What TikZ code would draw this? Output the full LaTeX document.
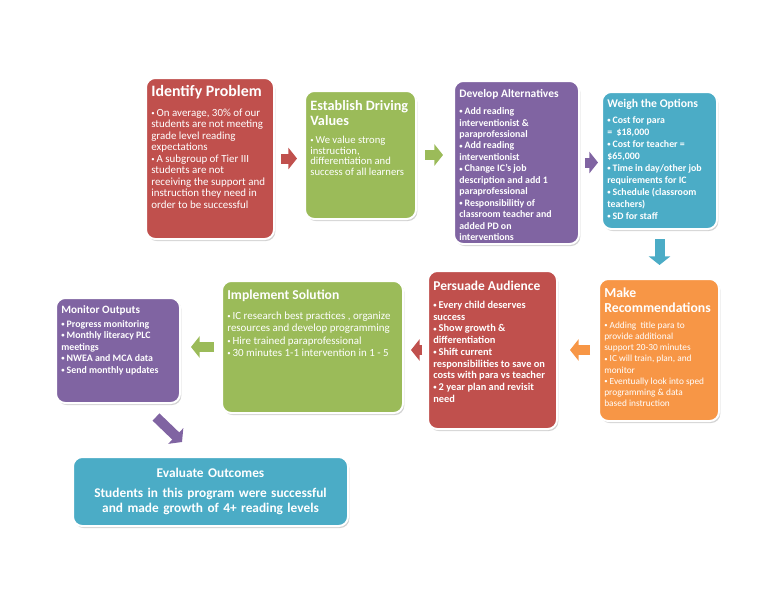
\documentclass[tikz,border=0pt]{standalone}
\usepackage{fontspec}
\setmainfont{Carlito}
\usepackage{xcolor}
\usepackage{tikz}
\usetikzlibrary{arrows.meta, positioning, shadows}

\definecolor{cRed}{HTML}{C0504D}
\definecolor{cGreen}{HTML}{9BBB59}
\definecolor{cPurple}{HTML}{8064A2}
\definecolor{cTeal}{HTML}{4BACC6}
\definecolor{cOrange}{HTML}{F79646}

\newcommand{\cardbody}[3]{\parbox[t][#2][t]{#1}{\raggedright\color{white}\vspace*{1.5pt}#3}}
\newcommand{\ttl}[4]{{\bfseries\fontsize{#1}{#2}\selectfont #4\par}\vspace{#3}}
\newcommand{\itm}{\par\hangindent=4pt\hangafter=1\makebox[4pt][l]{\raisebox{0.15ex}{\fontsize{5}{5}\selectfont\textbullet}}}

\begin{document}
\begin{tikzpicture}[
x=0.75pt, y=-0.75pt,
card/.style={draw=white, line width=1.5pt, rounded corners=7pt, inner sep=4pt, anchor=north west,
  drop shadow={shadow xshift=1pt, shadow yshift=-1.5pt, opacity=0.35}},
flow/.style={line width=7.5pt, -{Triangle[length=6.5pt, width=16pt]}}
]
\useasboundingbox (0,0) rectangle (768,594);

% top row
\node[card, fill=cRed] (ident) at (145,77) {\cardbody{88pt}{112.75pt}{%
\ttl{11.9}{13}{6.4pt}{Identify Problem}
\fontsize{8.2}{8.6}\selectfont
\itm On average, 30\% of our\\ students are not meeting\\ grade level reading\\ expectations
\itm A subgroup of Tier III\\ students are not\\ receiving the support and\\ instruction they need in\\ order to be successful}};
\node[card, fill=cGreen] (estab) at (304,90) {\cardbody{75.25pt}{88pt}{%
\vspace*{1.5pt}\ttl{10.7}{11.25}{5.5pt}{Establish Driving\\Values}
\fontsize{8}{8}\selectfont
\itm We value strong\\ instruction,\\ differentiation and\\ success of all learners}};
\node[card, fill=cPurple] (devel) at (453,80) {\cardbody{85.75pt}{114.25pt}{%
\vspace*{1pt}\ttl{8.6}{10}{4pt}{Develop Alternatives}
\bfseries\fontsize{7.4}{8.6}\selectfont
\itm Add reading\\ interventionist \&\\ paraprofessional
\itm Add reading\\ interventionist
\itm Change IC's job\\ description and add 1\\ paraprofessional
\itm Responsibilitiy of\\ classroom teacher and\\ added PD on\\ interventions}};
\node[card, fill=cTeal] (weigh) at (601,91) {\cardbody{78.25pt}{94.75pt}{%
\ttl{8.8}{10}{3pt}{Weigh the Options}
\bfseries\fontsize{7.4}{9}\selectfont
\itm Cost for para\\ = \ \$18,000
\itm Cost for teacher =\\ \$65,000
\itm Time in day/other job\\ requirements for IC
\itm Schedule (classroom\\ teachers)
\itm SD for staff}};

% middle row
\node[card, fill=cOrange] (recom) at (598,278) {\cardbody{82pt}{98.5pt}{%
\vspace*{1pt}\ttl{10.3}{11.25}{3.6pt}{Make\\Recommendations}
\fontsize{7}{8.4}\selectfont
\itm Adding\ \ title para to\\ provide additional\\ support 20-30 minutes
\itm IC will train, plan, and\\ monitor
\itm Eventually look into sped\\ programming \& data\\ based instruction}};
\node[card, fill=cRed] (persu) at (427,270) {\cardbody{88.75pt}{110.5pt}{%
\vspace*{2pt}\ttl{10.1}{11}{4.7pt}{Persuade Audience}
\bfseries\fontsize{7.8}{8.8}\selectfont
\itm Every child deserves\\ success
\itm Show growth \&\\ differentiation
\itm Shift current\\ responsibilities to save on\\ costs with para vs teacher
\itm 2 year plan and revisit\\ need}};
\node[card, fill=cGreen] (impl) at (221,280) {\cardbody{127.75pt}{91pt}{%
\vspace*{1pt}\ttl{10.2}{11}{6pt}{Implement Solution}
\fontsize{8.2}{9.2}\selectfont
\itm IC research best practices , organize\\ resources and develop programming
\itm Hire trained paraprofessional
\itm 30 minutes 1-1 intervention in 1 - 5}};
\node[card, fill=cPurple] (monit) at (55,297) {\cardbody{85pt}{70.75pt}{%
\ttl{8.4}{9.5}{1.9pt}{Monitor Outputs}
\bfseries\fontsize{7.4}{8.6}\selectfont
\itm Progress monitoring
\itm Monthly literacy PLC\\ meetings
\itm NWEA and MCA data
\itm Send monthly updates}};

% bottom
\node[card, fill=cTeal, text=white, minimum width=206.25pt, minimum height=51.75pt, text width=198pt, align=center,
  font=\bfseries\fontsize{10}{11.5}\selectfont] (evalu) at (72,456) {%
{\fontsize{10}{12}\selectfont Evaluate Outcomes\par}\vspace{3pt}
Students in this program were successful\\ and made growth of 4+ reading levels};

\draw[flow, cRed, shorten <=4.5pt, shorten >=5.25pt] (ident.east) -- (ident.east -| estab.west);
\draw[flow, cGreen, shorten <=6pt, shorten >=7.5pt] (estab.east) -- (estab.east -| devel.west);
\draw[flow, cPurple, shorten <=3.75pt, shorten >=2.25pt] (devel.east) -- (devel.east -| weigh.west);
\draw[flow, cTeal, shorten <=6.75pt, shorten >=9.75pt] (weigh.south) -- (weigh.south |- recom.north);
\draw[flow, cOrange, shorten <=6pt, shorten >=9pt] (recom.west |- persu.east) -- (persu.east);
\draw[flow, cRed, shorten <=3.75pt, shorten >=5.25pt] (persu.west) -- (persu.west -| impl.east);
\draw[flow, cGreen, shorten <=5.25pt, shorten >=7.5pt] (impl.west) -- (impl.west -| monit.east);
\draw[flow, cPurple] ([shift={(-25,13)}]monit.south east) -- ([shift={(110,-14)}]evalu.north west);
\end{tikzpicture}
\end{document}
